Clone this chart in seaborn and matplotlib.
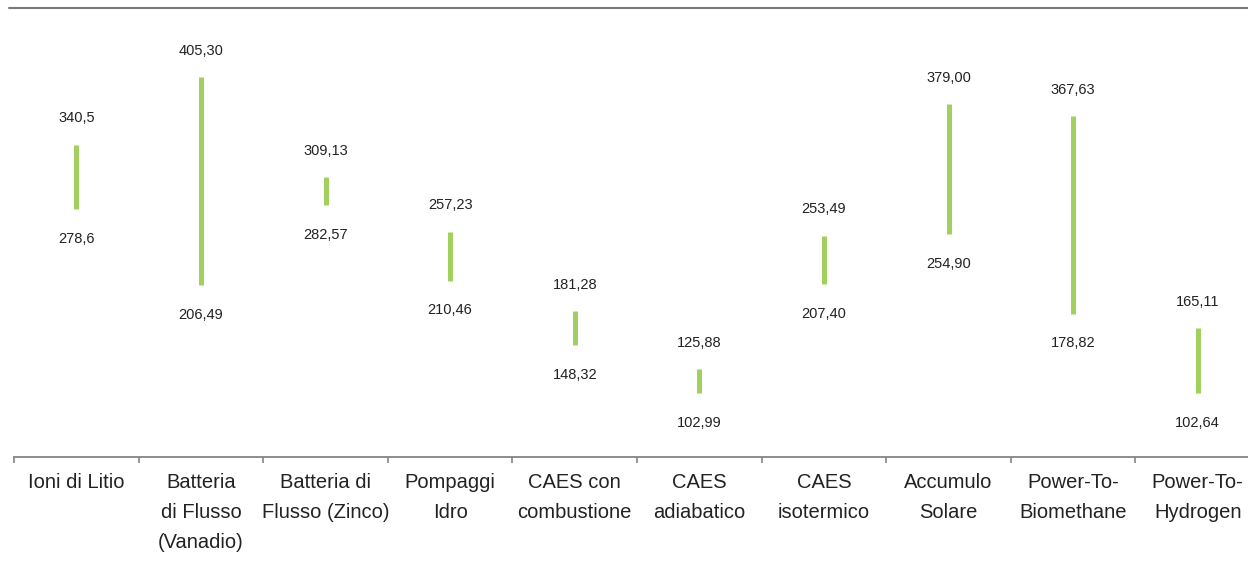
import matplotlib
matplotlib.use("Agg")
import matplotlib.pyplot as plt
from matplotlib.lines import Line2D
from matplotlib.ticker import FixedLocator
import numpy as np
import pandas as pd
import seaborn as sns

# Costo livellato per tecnologia di accumulo: estremi dell'intervallo
categories = [
    "Ioni di Litio",
    "Batteria\ndi Flusso\n(Vanadio)",
    "Batteria di\nFlusso (Zinco)",
    "Pompaggi\nIdro",
    "CAES con\ncombustione",
    "CAES\nadiabatico",
    "CAES\nisotermico",
    "Accumulo\nSolare",
    "Power-To-\nBiomethane",
    "Power-To-\nHydrogen",
]
max_values = [340.5, 405.30, 309.13, 257.23, 181.28, 125.88, 253.49, 379.00, 367.63, 165.11]
min_values = [278.6, 206.49, 282.57, 210.46, 148.32, 102.99, 207.40, 254.90, 178.82, 102.64]
decimals = [1, 2, 2, 2, 2, 2, 2, 2, 2, 2]

BAR_COLOR = "#a2d05f"
TEXT_COLOR = "#222222"
LINE_COLOR = "#858585"


def fmt(v, d):
    return f"{v:.{d}f}".replace(".", ",")


sns.set_style("white")
plt.rcParams["font.family"] = ["Liberation Sans", "DejaVu Sans"]

W, H, DPI = 1248, 566, 100
fig = plt.figure(figsize=(W / DPI, H / DPI), dpi=DPI)
ax_left, ax_right = 14, 1260
ax_top, ax_bottom = 8, 457
ax = fig.add_axes([ax_left / W, 1 - ax_bottom / H, (ax_right - ax_left) / W, (ax_bottom - ax_top) / H])

df = pd.DataFrame({
    "categoria": categories * 2,
    "valore": max_values + min_values,
})
sns.lineplot(data=df, x="categoria", y="valore", units="categoria", estimator=None,
             sort=False, color=BAR_COLOR, linewidth=3.6, ax=ax)
for ln in ax.lines:
    ln.set_solid_capstyle("butt")

for i, (hi, lo, d) in enumerate(zip(max_values, min_values, decimals)):
    ax.annotate(fmt(hi, d), (i, hi), xytext=(0, 19), textcoords="offset points",
                ha="center", va="center", fontsize=10.5, color=TEXT_COLOR)
    ax.annotate(fmt(lo, d), (i, lo), xytext=(0, -21.5), textcoords="offset points",
                ha="center", va="center", fontsize=10.5, color=TEXT_COLOR)

ax.set_xlim(-0.5, len(categories) - 0.5)
ax.set_ylim(41.6, 471.3)
ax.set_xlabel("")
ax.set_ylabel("")
ax.set_yticks([])
ax.set_xticks(range(len(categories)))
ax.set_xticklabels(categories, fontsize=14.5, color=TEXT_COLOR, linespacing=1.73)
ax.xaxis.set_minor_locator(FixedLocator(np.arange(-0.5, len(categories), 1.0)))
ax.tick_params(axis="x", which="major", bottom=False, length=0, pad=11.3)
ax.tick_params(axis="x", which="minor", bottom=True, length=4.3, width=1.2,
               color=LINE_COLOR, direction="out")
for side in ("left", "right", "top"):
    ax.spines[side].set_visible(False)
ax.spines["bottom"].set_color(LINE_COLOR)
ax.spines["bottom"].set_linewidth(1.3)

fig.add_artist(Line2D([9 / W, 1.0], [1 - 8 / H, 1 - 8 / H], transform=fig.transFigure,
                      color="#7a7a7a", linewidth=1.5))

fig.savefig("out.png", dpi=DPI)
